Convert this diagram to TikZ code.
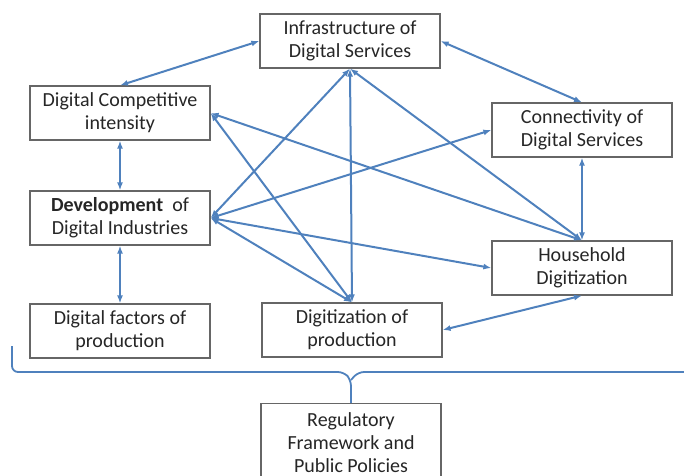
\documentclass[tikz,border=0pt]{standalone}
\usepackage{fontspec}
\setmainfont{Carlito}
\usetikzlibrary{
    positioning,
    arrows.meta
    }

\begin{document}
\begin{tikzpicture}[x=1pt, y=-1pt]
\tikzset{block/.style =
        {
            rectangle,
            draw=black!60,
            line width=1.2pt,
            fill=white,
            minimum width=180pt,
            minimum height=54pt,
            inner sep=0pt,
            align=center,
            font=\fontsize{20}{23}\selectfont,
            text=black!85
        }
}

\tikzset{link/.style =
        {
            line width=2pt,
            draw={rgb,255:red,79;green,129;blue,189},
            {Latex[length=8pt,width=6pt]}-{Latex[length=8pt,width=6pt]}
        }
}

\tikzset{brace/.style =
        {
            line width=1.8pt,
            draw={rgb,255:red,79;green,129;blue,189},
            rounded corners=6pt
        }
}

		\useasboundingbox (0,0) rectangle (684,475);

		\node[block] at (350,41) (infra) {Infrastructure of\\Digital Services};
		\node[block] at (120,113) (comp) {Digital Competitive\\intensity};
		\node[block] at (582,130) (conn) {Connectivity of\\Digital Services};
		\node[block] at (120,218) (dev) {\textbf{Development}\ \ of\\Digital Industries};
		\node[block] at (582,268) (house) {Household\\Digitization};
		\node[block] at (120,331) (fact) {Digital factors of\\production};
		\node[block] at (352,330) (prod) {Digitization of\\production};
		\node[block, minimum height=78pt, anchor=north] at (351,403) (reg) {Regulatory\\Framework and\\Public Policies};

		% links between the blocks
		\foreach \start / \finish in
			{comp.north/infra.west,
				infra.east/conn.north,
				comp.south/dev.north,
				dev.south/fact.north,
				conn.south/house.north,
				prod.east/house.south,
				dev.east/infra.south,
				dev.east/conn.west,
				dev.east/house.west,
				dev.east/prod.north,
				comp.east/house.north,
				comp.east/prod.north,
				infra.south/prod.north,
				infra.south/house.north}
			{
				\draw [link] (\start) -- (\finish);
			}

		% brace over the policies
		\draw[brace] (12,346) -- (12,372) -- (344,372) -- (351,380) -- (reg.north);
		\draw[brace] (351,380) -- (358,372) -- (692,372);

	\end{tikzpicture}
\end{document}
